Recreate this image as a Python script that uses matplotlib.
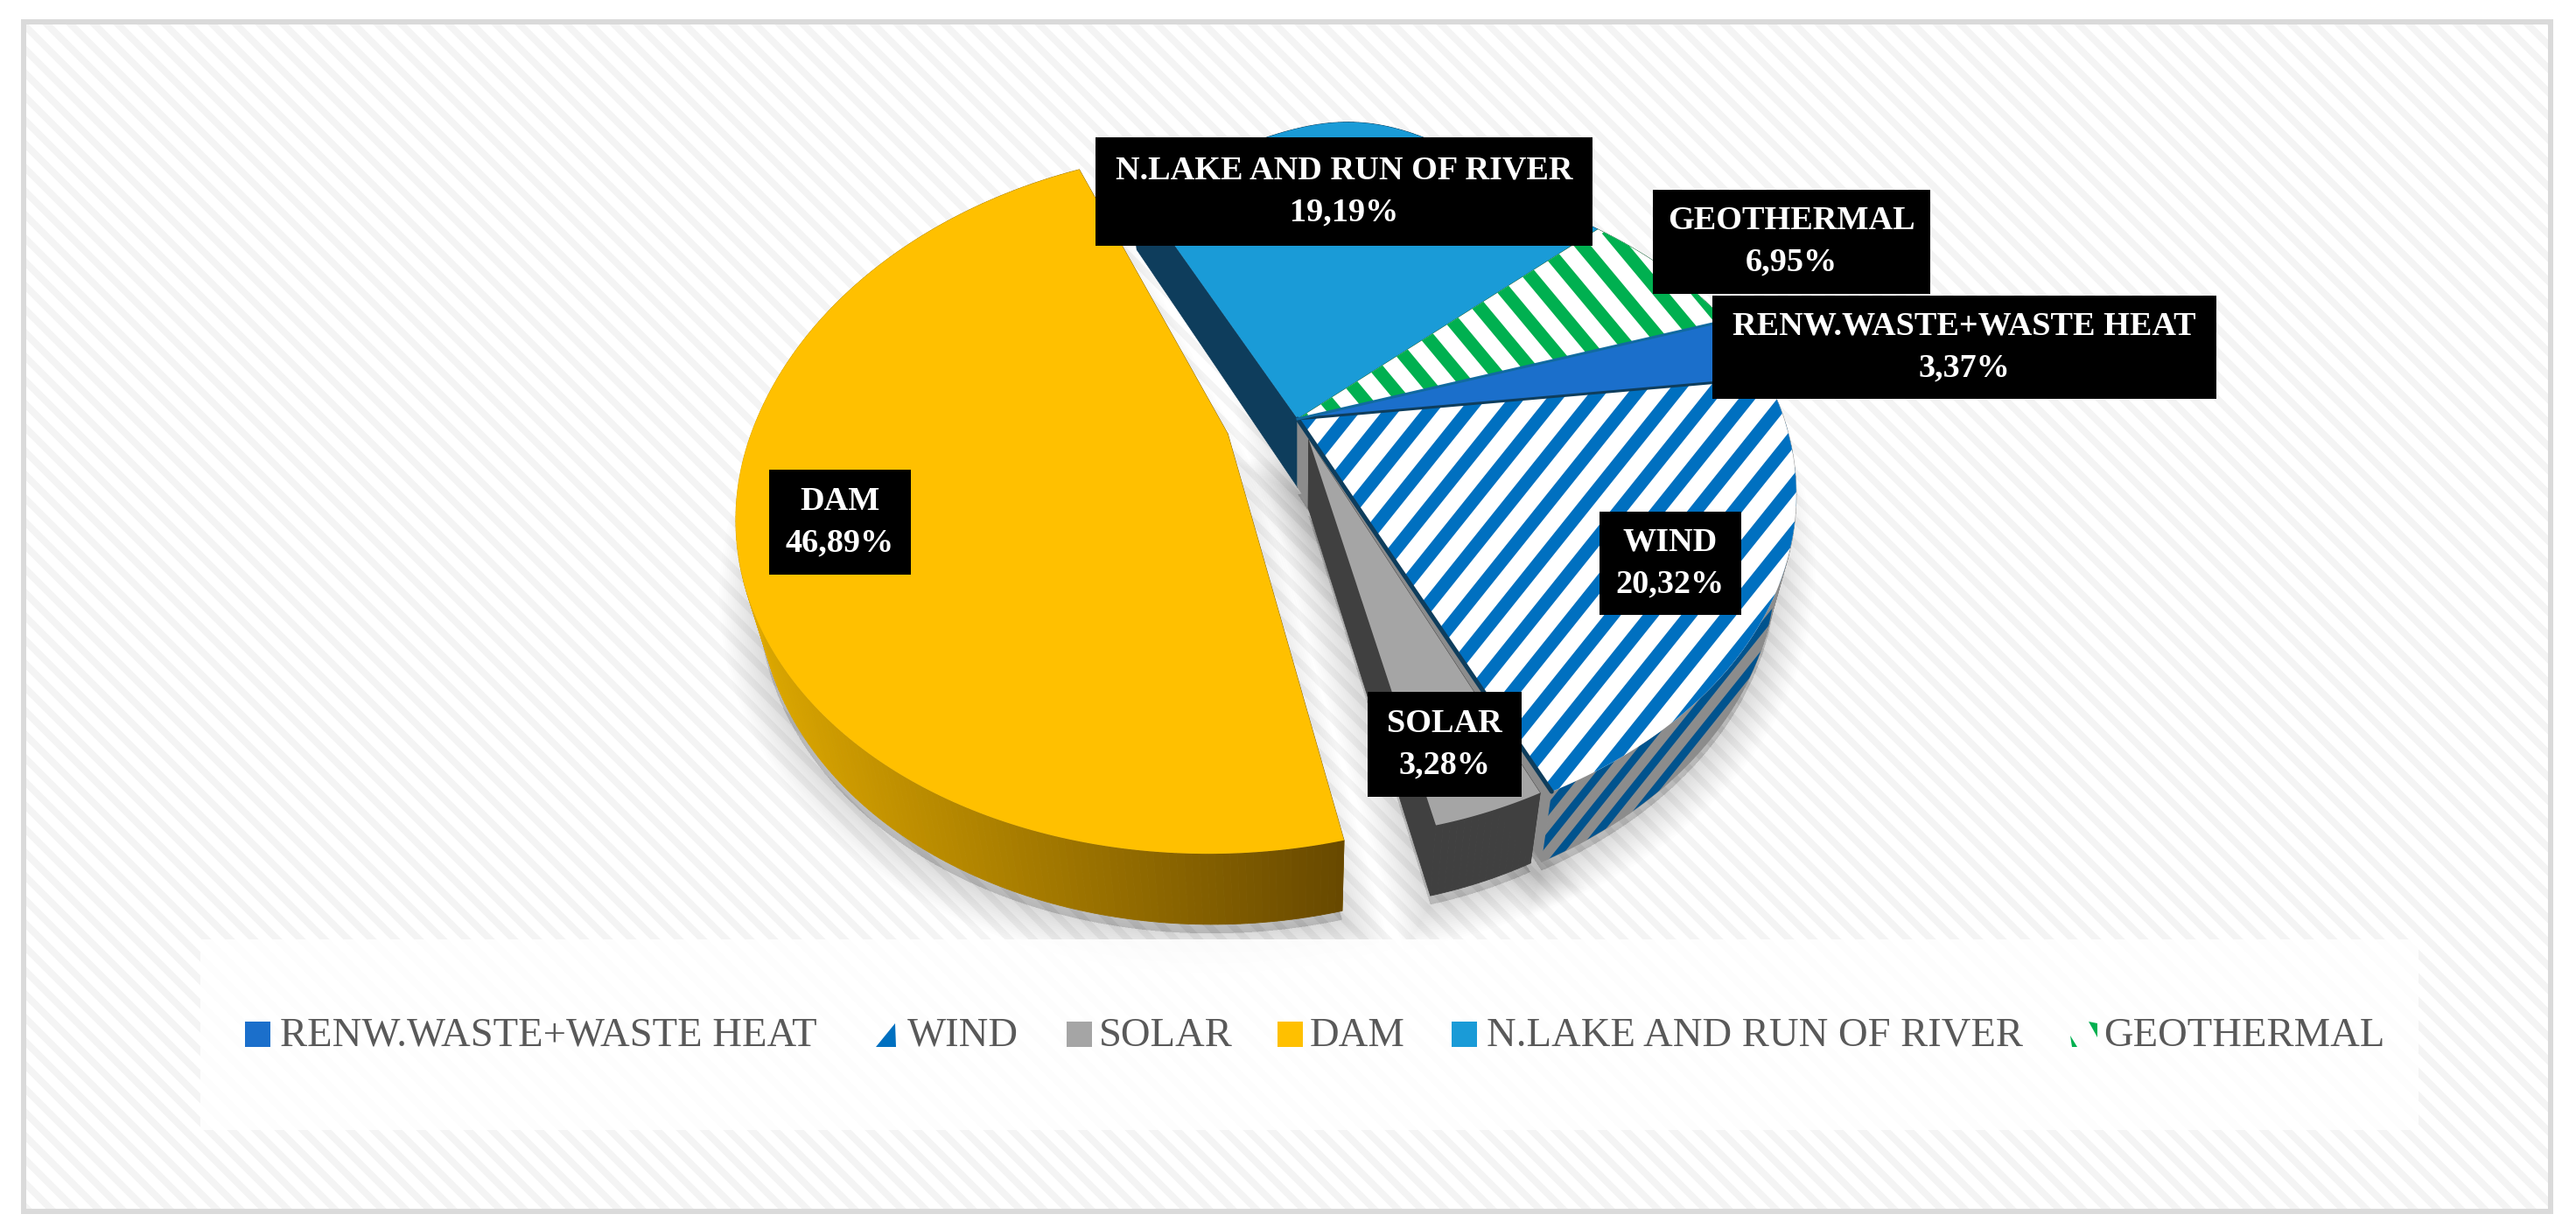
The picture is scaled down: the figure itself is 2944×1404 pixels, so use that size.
# -*- coding: utf-8 -*-
import numpy as np
import matplotlib
matplotlib.use("Agg")
import matplotlib.pyplot as plt
from matplotlib.collections import LineCollection
from matplotlib.patches import Polygon, Rectangle

plt.rcParams["font.family"] = ["Liberation Serif", "DejaVu Serif"]

# data, clockwise from the renew. waste slice
CATEGORIES = ["RENW.WASTE+WASTE HEAT", "WIND", "SOLAR", "DAM", "N.LAKE AND RUN OF RIVER", "GEOTHERMAL"]
SHARES = [3.37, 20.32, 3.28, 46.89, 19.19, 6.95]
EXPLODE = [0.0, 0.0, 0.07, 0.15, 0.0, 0.0]

TOP_COLORS = ["#1B6FCB", "#FFFFFF", "#A5A5A5", "#FFC000", "#1A9BD7", "#FFFFFF"]
SIDE_COLORS = ["#0F3F75", "#8C8C8C", "#404040", "#8A6500", "#0E3D5C", "#0A5C2C"]
STRIPES = {1: ("#0070C0", 1.25), 5: ("#00B050", -1.2)}

# pixel layout of the tilted disc
W, H = 2944, 1404
CX, CY = 1483, 479
RX, RY = 556, 351
PERSP = 0.205
DEPTH = 78
SHRINK = 0.96
START_ANGLE = 20.0
# small per-slice corrections for the 3d look of the original
STRETCH_U = [1.0, 1.0, 0.9, 0.97, 1.0, 1.0]
STRETCH_UP = [1.0, 1.0, 1.0, 1.12, 1.0, 1.0]
STRETCH_DOWN = [1.0, 1.07, 1.0, 1.05, 1.0, 1.0]
NLAKE_BULGE = 0.22

fig = plt.figure(figsize=(W / 300, H / 300), dpi=300)
ax = fig.add_axes([0, 0, 1, 1])
ax.set_xlim(0, W)
ax.set_ylim(H, 0)
ax.axis("off")


def project(u, v, lift=0.0):
    w = 1 + PERSP * v
    x = CX + RX * u / w
    y = CY - RY * v / w
    if lift:
        x = CX + (x - CX) * SHRINK
        y = CY + (y - CY) * SHRINK + lift / w
    return x, y


def stripes(patch, color, slope, spacing, width, zorder):
    # diagonal lines clipped to a patch
    x0, y0, x1, y1 = patch.get_extents().transformed(ax.transData.inverted()).extents
    y0, y1 = min(y0, y1), max(y0, y1)
    h = y1 - y0
    starts = np.arange(x0 - h * 2, x1 + h * 2, spacing)
    segs = [[(s, y1), (s + h / slope, y0)] for s in starts]
    lc = LineCollection(segs, colors=color, linewidths=width * 72 / 300, zorder=zorder)
    ax.add_collection(lc)
    lc.set_clip_path(patch)


# background
ax.add_patch(Rectangle((27, 25), 2888, 1360, fc="white", ec="none", zorder=0))
frame_bg = Rectangle((27, 25), 2888, 1360, fc="none", ec="none", zorder=0)
ax.add_patch(frame_bg)
fig.canvas.draw()
stripes(frame_bg, "#F4F4F4", -1.0, 27, 8, 0.5)
ax.add_patch(Rectangle((27, 25), 2888, 1360, fc="none", ec="#DADADA", lw=6 * 72 / 300, zorder=1))
ax.add_patch(Rectangle((229, 1074), 2535, 218, fc="white", ec="none", alpha=0.9, zorder=1.2))

# slice geometry comes from the shares
edges = START_ANGLE - np.cumsum([0] + SHARES) * 3.6
slices = []
for i, share in enumerate(SHARES):
    a0, a1 = np.radians(edges[i]), np.radians(edges[i + 1])
    mid = (a0 + a1) / 2
    du, dv = EXPLODE[i] * np.cos(mid), EXPLODE[i] * np.sin(mid)
    t = np.linspace(a0, a1, max(int(share * 5), 8))
    sv = np.where(np.sin(t) > 0, STRETCH_UP[i], STRETCH_DOWN[i])
    if i == 4:
        # back edge of this slice rises above the rest, ends stay on the neighbours
        sv = 1 + NLAKE_BULGE * np.sin(np.pi * (t - a0) / (a1 - a0)) ** 2
    slices.append((du + STRETCH_U[i] * np.cos(t), dv + sv * np.sin(t), du, dv))

# soft shadow below the pie
for i in (1, 2, 3):
    u, v, du, dv = slices[i]
    xs, ys = project(u, v, DEPTH + 8)
    ax_x, ax_y = project(du, dv, DEPTH + 8)
    pts = np.column_stack([np.r_[ax_x, xs], np.r_[ax_y, ys]])
    for lw in range(4, 94, 5):
        ax.add_patch(Polygon(pts, fc="black", ec="black", alpha=0.007, lw=lw * 72 / 300, zorder=1.1))

# back to front
order = [4, 5, 0, 1, 2, 3]
z = 3
for i in order:
    u, v, du, dv = slices[i]
    top_x, top_y = project(u, v)
    low_x, low_y = project(u, v, DEPTH)
    ap_x, ap_y = project(du, dv)
    apl_x, apl_y = project(du, dv, DEPTH)

    # cut faces
    for k in (0, -1):
        face = [(ap_x, ap_y), (top_x[k], top_y[k]), (low_x[k], low_y[k]), (apl_x, apl_y)]
        ax.add_patch(Polygon(face, fc=SIDE_COLORS[i], ec=SIDE_COLORS[i], lw=0.2, zorder=z))

    # outer wall
    for k in range(len(top_x) - 1):
        quad = [(top_x[k], top_y[k]), (top_x[k + 1], top_y[k + 1]), (low_x[k + 1], low_y[k + 1]), (low_x[k], low_y[k])]
        if i == 3:
            f = np.clip((top_x[k] - 850) / 700, 0, 1)
            col = np.array([0.87, 0.66, 0.0]) * (1 - f) + np.array([0.40, 0.28, 0.0]) * f
        else:
            col = SIDE_COLORS[i]
        ax.add_patch(Polygon(quad, fc=col, ec=col, lw=0.2, zorder=z))
    if i in STRIPES:
        outline = np.r_[np.column_stack([top_x, top_y]), np.column_stack([low_x, low_y])[::-1]]
        wall_patch = Polygon(outline, fc="none", ec="none", zorder=z)
        ax.add_patch(wall_patch)
        stripes(wall_patch, "#00538E" if i == 1 else "#0A5C2C", STRIPES[i][1], 26, 9, z + 0.1)

    # top face
    pts = np.r_[[(ap_x, ap_y)], np.column_stack([top_x, top_y])]
    face = Polygon(pts, fc=TOP_COLORS[i], ec="none", zorder=z + 0.2)
    ax.add_patch(face)
    if i in STRIPES:
        color, slope = STRIPES[i]
        stripes(face, color, slope, 44, 15, z + 0.3)
    z += 1

# dark seams along the cuts
u, v, du, dv = slices[1]
sx, sy = project(u, v)
ax_x, ax_y = project(du, dv)
ax.plot([ax_x, sx[-1]], [ax_y, sy[-1]], color="#0E3D5C", lw=5 * 72 / 300, zorder=z, solid_capstyle="round")
ax.plot([ax_x, sx[0]], [ax_y, sy[0]], color="#0E3D5C", lw=3 * 72 / 300, zorder=z)
u, v, du, dv = slices[5]
sx, sy = project(u, v)
ax.plot([ax_x, sx[-1]], [ax_y, sy[-1]], color="#116AA0", lw=3 * 72 / 300, zorder=z)

# data labels
LABEL_BOXES = {
    0: (1957, 338, 2533, 456),
    1: (1828, 585, 1990, 703),
    2: (1563, 791, 1739, 911),
    3: (879, 537, 1041, 657),
    4: (1252, 157, 1820, 281),
    5: (1889, 217, 2206, 336),
}
for i, (x0, y0, x1, y1) in LABEL_BOXES.items():
    ax.add_patch(Rectangle((x0, y0), x1 - x0, y1 - y0, fc="black", ec="none", zorder=z + 1))
    pct = f"{SHARES[i]:.2f}".replace(".", ",") + "%"
    ax.text((x0 + x1) / 2, (y0 + y1) / 2, f"{CATEGORIES[i]}\n{pct}", color="white", fontweight="bold",
            fontsize=9.2, ha="center", va="center", linespacing=1.45, zorder=z + 2)

# legend
LEGEND_POS = [(280, 320), (1001, 1037), (1219, 1256), (1460, 1497), (1659, 1699), (2366, 2404)]
for i, (sw, tx) in enumerate(LEGEND_POS):
    if i == 1:
        ax.add_patch(Polygon([(sw, 1197), (sw + 22, 1170), (sw + 23, 1197)], fc="#0070C0", ec="none", zorder=z))
    elif i == 5:
        ax.add_patch(Polygon([(sw, 1184), (sw + 8, 1197), (sw + 2, 1197)], fc="#00B050", ec="none", zorder=z))
        ax.add_patch(Polygon([(sw + 21, 1168), (sw + 31, 1170), (sw + 31, 1186)], fc="#00B050", ec="none", zorder=z))
    else:
        ax.add_patch(Rectangle((sw, 1168), 29, 29, fc=TOP_COLORS[i], ec="none", zorder=z))
    ax.text(tx, 1196, CATEGORIES[i], color="#595959", fontsize=11.2, ha="left", va="baseline", zorder=z)

fig.savefig("out.png", dpi=300)
plt.close(fig)
